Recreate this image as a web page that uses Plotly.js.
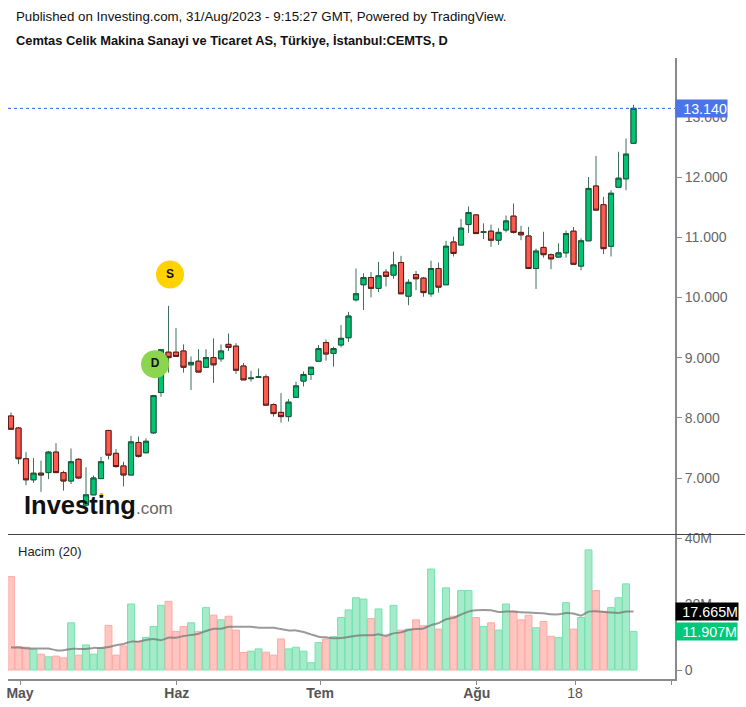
<!DOCTYPE html>
<html>
<head>
<meta charset="utf-8">
<script src="https://cdn.plot.ly/plotly-3.0.1.min.js"></script>
<style>html,body{margin:0;padding:0;background:#fff}</style>
</head>
<body>
<div id="chart" style="width:746px;height:707px"></div>
<script>
const opens = [8.03,7.83,7.32,6.97,7.08,7.09,7.43,7.09,6.95,7.31,6.55,6.72,6.99,7.79,7.41,7.20,7.05,7.59,7.42,7.75,8.42,9.09,9.09,9.11,8.88,8.94,8.84,9.00,8.98,9.22,9.19,8.86,8.65,8.67,8.68,8.22,8.09,8.02,8.34,8.61,8.72,8.94,9.25,9.07,9.21,9.33,9.96,10.21,10.33,10.15,10.42,10.37,10.58,10.02,10.38,10.32,10.06,10.48,10.21,10.92,10.87,11.21,11.37,11.08,11.10,10.95,11.12,11.35,11.08,11.02,10.48,10.83,10.71,10.67,10.74,11.10,10.52,10.94,11.85,11.54,10.85,11.83,11.97,12.56];
const highs = [8.09,7.85,7.43,7.33,7.29,7.45,7.58,7.12,7.49,7.33,7.18,7.04,7.35,7.80,7.48,7.27,7.70,7.69,7.66,8.38,9.14,9.86,9.49,9.22,9.02,9.14,9.14,9.32,9.22,9.40,9.24,8.91,8.78,8.82,8.72,8.24,8.41,8.31,8.60,8.77,8.84,9.21,9.30,9.18,9.54,9.76,10.48,10.40,10.42,10.59,10.47,10.76,10.69,10.30,10.44,10.34,10.61,10.58,10.94,11.01,11.30,11.51,11.38,11.23,11.21,11.15,11.36,11.56,11.19,11.17,10.81,11.09,10.73,10.90,11.11,11.17,10.98,12.00,12.35,11.67,11.78,12.42,12.64,13.20];
const lows = [7.81,7.23,6.88,6.92,6.77,6.98,7.09,6.79,6.90,6.98,6.53,6.72,6.99,7.31,7.17,6.86,7.05,7.34,7.41,7.73,8.35,8.75,9.02,8.75,8.46,8.76,8.84,8.58,8.93,9.11,8.73,8.63,8.60,8.67,8.21,8.02,7.92,7.94,8.34,8.52,8.63,8.94,8.95,8.85,9.17,9.26,9.93,9.79,10.00,10.09,10.18,10.31,10.06,9.87,10.12,10.01,10.01,10.08,10.21,10.68,10.87,11.07,11.06,10.97,10.84,10.87,11.08,11.06,10.95,10.48,10.14,10.66,10.47,10.67,10.66,10.55,10.45,10.94,11.45,10.72,10.68,11.83,11.78,12.56];
const closes = [7.81,7.32,6.97,7.08,7.05,7.43,7.09,6.95,7.27,7.00,6.72,7.00,7.27,7.38,7.19,7.05,7.60,7.36,7.61,8.37,9.13,9.00,9.02,8.84,8.92,8.76,9.00,8.88,9.11,9.17,8.79,8.63,8.66,8.68,8.21,8.07,8.02,8.26,8.53,8.72,8.84,9.15,9.06,9.15,9.32,9.69,10.06,10.33,10.15,10.36,10.35,10.54,10.06,10.25,10.31,10.08,10.48,10.17,10.85,10.73,11.15,11.41,11.06,11.09,10.95,11.08,11.27,11.08,11.04,10.48,10.77,10.71,10.64,10.74,11.06,10.55,10.94,11.81,11.45,10.81,11.73,11.98,12.38,13.14];
const volumes = [28.3,7.1,6.9,6.3,4.8,4.0,4.2,3.7,14.3,4.5,7.6,4.8,6.6,13.5,4.5,7.3,20.0,8.6,9.9,13.2,19.6,20.8,11.7,13.2,14.3,11.7,18.9,16.6,15.2,16.3,12.1,5.3,5.7,6.4,5.4,4.5,9.4,6.4,6.9,5.7,2.2,8.3,9.4,10.1,15.9,18.2,21.9,21.5,15.6,18.5,10.1,19.6,12.1,12.4,15.2,13.4,30.6,12.4,24.9,16.3,24.1,24.1,15.9,13.2,14.3,12.1,20.0,17.8,15.2,16.6,12.8,14.7,10.2,9.8,20.4,12.4,15.9,36.4,24.1,17.8,18.9,21.9,26.1,11.7];
const volumeMA = [6.8,6.8,6.6,6.5,6.5,6.5,6.0,6.0,6.4,6.4,6.4,6.7,6.7,7.0,7.5,7.9,8.6,8.6,9.1,9.4,9.0,9.8,9.8,10.3,10.6,11.0,11.8,12.5,12.5,13.1,13.1,13.1,13.1,12.8,12.8,12.8,12.4,12.0,12.0,11.5,10.8,10.1,9.9,9.6,9.7,10.0,10.4,10.5,10.5,10.8,10.4,11.1,11.4,12.1,12.4,12.6,13.6,14.2,15.4,15.8,16.8,17.7,18.1,18.2,18.1,17.6,17.7,17.7,17.5,17.4,17.3,17.2,16.9,16.9,17.3,17.1,16.5,17.7,17.8,17.6,17.4,17.3,17.7,17.7];
const monthLabels = ["<b>May</b>","<b>Haz</b>","<b>Tem</b>","<b>Ağu</b>","18",""];
const monthTicks = [1.2,22.1,41.2,62.1,75.2,88.1];
const priceTicks = [7,8,9,10,11,12,13];
const volumeTicks = [0,20,40];
const volumeTickLabels = ["0","20M","40M"];
const signalLabels = ["<b>D</b>","<b>S</b>"];
const signalX = [19.2,21.2];
const signalY = [8.89,10.38];
const lastPrice = 13.14;
const lastMA = "17.665M";
const lastVolume = "11.907M";

const W=746,H=707,L=8,R=675,T=58,B=679;
const px=x=>(x-L)/(R-L), py=y=>(B-y)/(B-T);
const idx = opens.map((_,i)=>i);
const bodyTop = idx.map(i=>Math.max(opens[i],closes[i]));
const bodyLow = idx.map(i=>Math.min(opens[i],closes[i]));
const F='"Liberation Sans", Arial, sans-serif';
const axisCol='#8a8a8a', txt='#666666', wick='#3f6f5a';

const traces=[
 {type:'candlestick',x:idx,open:opens,high:highs,low:lows,close:closes,xaxis:'x',yaxis:'y',
  increasing:{line:{color:wick,width:1},fillcolor:'#00c373'},
  decreasing:{line:{color:wick,width:1},fillcolor:'#ff5a50'},
  whiskerwidth:0,hoverinfo:'skip',showlegend:false},
 {type:'candlestick',x:idx,open:opens,high:bodyTop,low:bodyLow,close:closes,xaxis:'x',yaxis:'y',
  increasing:{line:{color:'#17583c',width:1},fillcolor:'#00c373'},
  decreasing:{line:{color:'#5e1a16',width:1},fillcolor:'#ff5a50'},
  whiskerwidth:0,hoverinfo:'skip',showlegend:false},
 {type:'scatter',mode:'markers+text',x:signalX,y:signalY,text:signalLabels,textposition:'middle center',
  textfont:{family:F,size:12,color:'#111'},
  marker:{size:28,color:['#8cd64f','#ffd200'],line:{width:0}},xaxis:'x',yaxis:'y',hoverinfo:'skip',showlegend:false},
 {type:'bar',x:idx,y:volumes,xaxis:'x',yaxis:'y2',width:0.92,
  marker:{color:idx.map(i=>closes[i]>=opens[i]?'#a6ebc9':'#ffc5c1'),
          line:{width:1,color:idx.map(i=>closes[i]>=opens[i]?'#76e2ae':'#ffaaa5')}},
  hoverinfo:'skip',showlegend:false},
 {type:'scatter',mode:'lines',x:idx,y:volumeMA,xaxis:'x',yaxis:'y2',
  line:{color:'rgba(115,115,115,0.72)',width:2,shape:'spline',smoothing:0.4},hoverinfo:'skip',showlegend:false}
];

function note(text,x,y,opts){return Object.assign({text:text,xref:'paper',yref:'paper',x:px(x-2),y:py(y),
  xanchor:'left',yanchor:'middle',showarrow:false,align:'left',font:{family:F,size:13.3,color:'#111'}},opts||{});}
function badge(text,top,bottom,right,bg,size){return {text:text,xref:'paper',yref:'paper',x:px(R),y:py((top+bottom)/2),
  xanchor:'left',yanchor:'middle',showarrow:false,align:'right',width:right-R-2,height:bottom-top-2,
  bgcolor:bg,borderpad:0,font:{family:F,size:size,color:'#fff'}};}

const layout={
 width:W,height:H,autosize:false,paper_bgcolor:'#fff',plot_bgcolor:'#fff',
 margin:{l:L,r:W-R,t:T,b:H-B,pad:0},showlegend:false,dragmode:false,boxmode:'overlay',boxgap:0.2,boxgroupgap:0.15,bargap:0,
 xaxis:{domain:[0,1],anchor:'y2',range:[-0.4,88.53],rangeslider:{visible:false},showgrid:false,zeroline:false,
   tickmode:'array',tickvals:monthTicks,ticktext:monthLabels,ticks:'outside',ticklen:4,tickcolor:axisCol,ticklabelstandoff:-4,
   showline:true,linecolor:axisCol,linewidth:2,tickfont:{family:F,size:14,color:'#555'}},
 yaxis:{domain:[py(534),1],anchor:'x',side:'right',range:[7+(478-534)/60.2,7+(478-58)/60.2],showgrid:false,zeroline:false,
   tickmode:'array',tickvals:priceTicks,tickformat:'.3f',ticks:'outside',ticklen:5,tickcolor:axisCol,
   showline:true,linecolor:axisCol,linewidth:2,tickfont:{family:F,size:14,color:txt}},
 yaxis2:{domain:[0,py(535)],anchor:'x',side:'right',range:[-9/3.3,135/3.3],showgrid:false,zeroline:false,
   tickmode:'array',tickvals:volumeTicks,ticktext:volumeTickLabels,ticks:'outside',ticklen:5,tickcolor:axisCol,
   showline:true,linecolor:axisCol,linewidth:2,tickfont:{family:F,size:14,color:txt}},
 shapes:[
  {type:'line',xref:'paper',yref:'y',x0:0,x1:1,y0:lastPrice,y1:lastPrice,line:{color:'#2f5fe6',width:1,dash:'dot'},layer:'above'},
  {type:'line',xref:'paper',yref:'paper',x0:0,x1:px(745),y0:py(534.5),y1:py(534.5),line:{color:'#444',width:1},layer:'above'},
  {type:'circle',xref:'paper',yref:'paper',x0:px(99.5),x1:px(103.5),y0:py(497),y1:py(493),fillcolor:'#f5a623',line:{width:0},layer:'above'}
 ],
 annotations:[
  note('Published on Investing.com, 31/Aug/2023 - 9:15:27 GMT, Powered by TradingView.',16,17),
  note('<b>Cemtas Celik Makina Sanayi ve Ticaret AS, Türkiye, İstanbul:CEMTS, D</b>',16,40,{font:{family:F,size:12.85,color:'#111'}}),
  note('Hacim (20)',18,551,{font:{family:F,size:13,color:'#222'}}),
  note('<b>Investing</b><span style="font-size:17px;color:#666">.com</span>',24,505,{font:{family:F,size:25.5,color:'#111'}}),
  badge(lastPrice.toFixed(3),99,118,728,'#4a74e8',14.3),
  badge(lastMA,602,621,739,'#000',14.3),
  badge(lastVolume,622,641,738,'#00c878',14.3)
 ]
};
Plotly.newPlot('chart',traces,layout,{staticPlot:true,displayModeBar:false});
</script>
</body>
</html>
